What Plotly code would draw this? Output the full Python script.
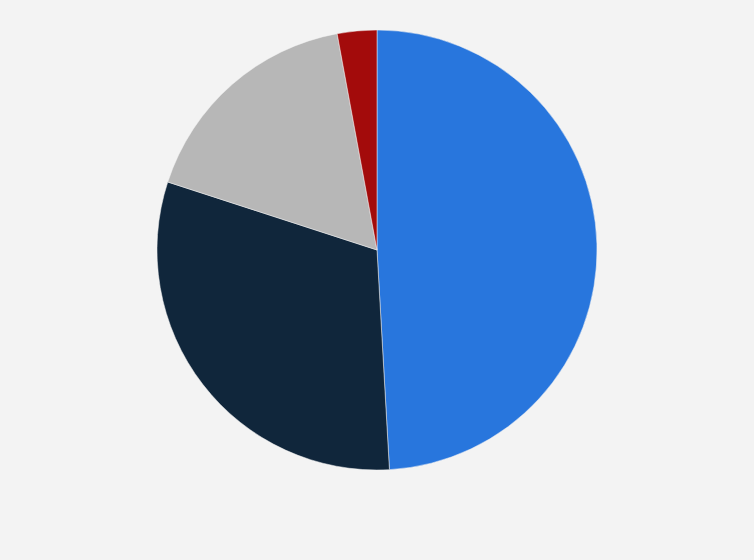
import plotly.graph_objects as go

labels = ["Segment 1", "Segment 2", "Segment 3", "Segment 4"]
values = [49.1, 30.9, 17.1, 2.9]
colors = ["#2876dd", "#10263b", "#b7b7b7", "#a30b0b"]

fig = go.Figure(go.Pie(
    labels=labels,
    values=values,
    marker=dict(colors=colors, line=dict(color="#f3f3f3", width=0.5)),
    sort=False,
    direction="clockwise",
    rotation=0,
    textinfo="none",
    hoverinfo="label+percent",
    showlegend=False,
))

fig.update_layout(
    width=754,
    height=560,
    margin=dict(l=0, r=0, t=30, b=90),
    paper_bgcolor="#f3f3f3",
    plot_bgcolor="#f3f3f3",
)

fig.write_html(
    "out.html",
    config={"displayModeBar": False},
    post_script="document.body.style.margin='0';document.body.style.background='#f3f3f3';",
)
